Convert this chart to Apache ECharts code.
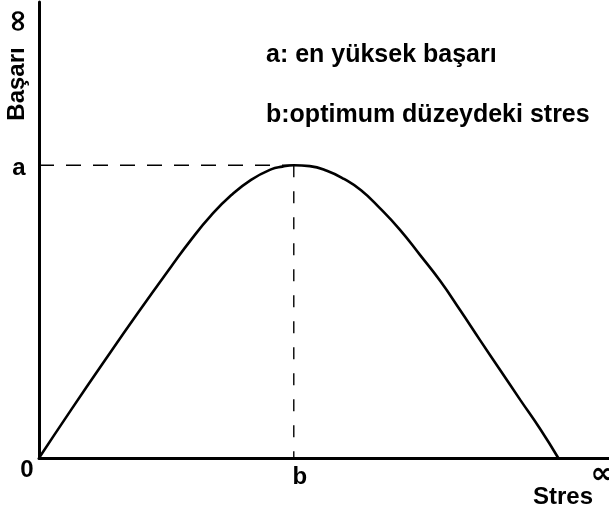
<!DOCTYPE html>
<html>
<head>
<meta charset="utf-8">
<script src="https://cdn.jsdelivr.net/npm/echarts@6/dist/echarts.min.js"></script>
<style>
html,body{margin:0;padding:0;background:#fff;}
#c{width:609px;height:516px;}
</style>
</head>
<body>
<div id="c"></div>
<script>
// Curve: performance (Başarı) vs stress (Stres) (0-100 scales)
const stres  = [0, 5.6, 11.6, 17.4, 23.2, 26.7, 30.2, 33.7, 37.2, 40.7, 42.7, 44.7, 47.5, 50.5, 53.5, 56.5, 59.8, 63.3, 66.8, 70.4, 73.9, 77.4, 80.9, 84.4, 87.9, 91.1];
const basari = [0, 10.5, 21.5, 31.9, 42.0, 47.9, 53.2, 57.6, 61.0, 63.3, 63.9, 64.2, 64.0, 63.0, 61.2, 58.7, 54.8, 50.1, 44.6, 38.8, 32.4, 25.8, 19.3, 12.8, 6.4, 0];
const peakX = 44.7;   // b
const peakY = 64.2;   // a
const xTickLabels = ['0', 'b', '∞'];
const yTickLabels = ['a', '∞'];
const axisNames = ['Stres', 'Başarı'];
const notes = ['a: en yüksek başarı', 'b:optimum düzeydeki stres'];

const curve = stres.map((x, i) => [x, basari[i]]);
const FONT = '"Liberation Sans", Arial, sans-serif';
const INF_FONT = '"DejaVu Sans", sans-serif';

const chart = echarts.init(document.getElementById('c'), null, {renderer: 'canvas'});
const axisCommon = {
  type: 'value', min: 0, max: 100,
  axisLine: {show: true, lineStyle: {color: '#000', width: 3}},
  axisTick: {show: false}, axisLabel: {show: false}, splitLine: {show: false}
};
chart.setOption({
  animation: false,
  backgroundColor: '#fff',
  grid: {left: 39, right: 0, top: 2, bottom: 58},
  xAxis: axisCommon,
  yAxis: axisCommon,
  series: [
    {type: 'line', data: curve, smooth: 0.5, showSymbol: false, clip: false,
     lineStyle: {color: '#000', width: 2.6}},
    {type: 'line', data: [[0, peakY], [peakX, peakY]], showSymbol: false,
     lineStyle: {color: '#000', width: 1.4, type: [15, 12]}},
    {type: 'line', data: [[peakX, peakY], [peakX, 0]], showSymbol: false,
     lineStyle: {color: '#000', width: 1.4, type: [12, 14]}}
  ]
});

const o = chart.convertToPixel({gridIndex: 0}, [0, 0]);
const pk = chart.convertToPixel({gridIndex: 0}, [peakX, peakY]);
const right = chart.convertToPixel({gridIndex: 0}, [100, 100]);
const t = (text, x, y, font, extra) => Object.assign({
  type: 'text', x: x, y: y,
  style: {text: text, fill: '#000', font: font, textAlign: 'center', textVerticalAlign: 'middle'}
}, extra || {});
const F24 = 'bold 24px ' + FONT;
const FINF = 'bold 30px ' + INF_FONT;
chart.setOption({
  graphic: [
    t(xTickLabels[0], o[0] - 12, o[1] + 12, F24),
    t(xTickLabels[1], pk[0] + 6, o[1] + 19, F24),
    t(xTickLabels[2], right[0] - 6, o[1] + 17, FINF),
    t(axisNames[0], right[0] - 46, o[1] + 39, F24),
    t(yTickLabels[0], o[0] - 20, pk[1] + 3, F24),
    t(yTickLabels[1], o[0] - 20, right[1] + 19, FINF, {rotation: Math.PI / 2}),
    t(axisNames[1], o[0] - 22, 84, F24, {rotation: Math.PI / 2}),
    {type: 'text', left: 266, top: 43, style: {text: notes[0], fill: '#000', font: 'bold 25px ' + FONT}},
    {type: 'text', left: 266, top: 103, style: {text: notes[1], fill: '#000', font: 'bold 25px ' + FONT}}
  ]
});
</script>
</body>
</html>
